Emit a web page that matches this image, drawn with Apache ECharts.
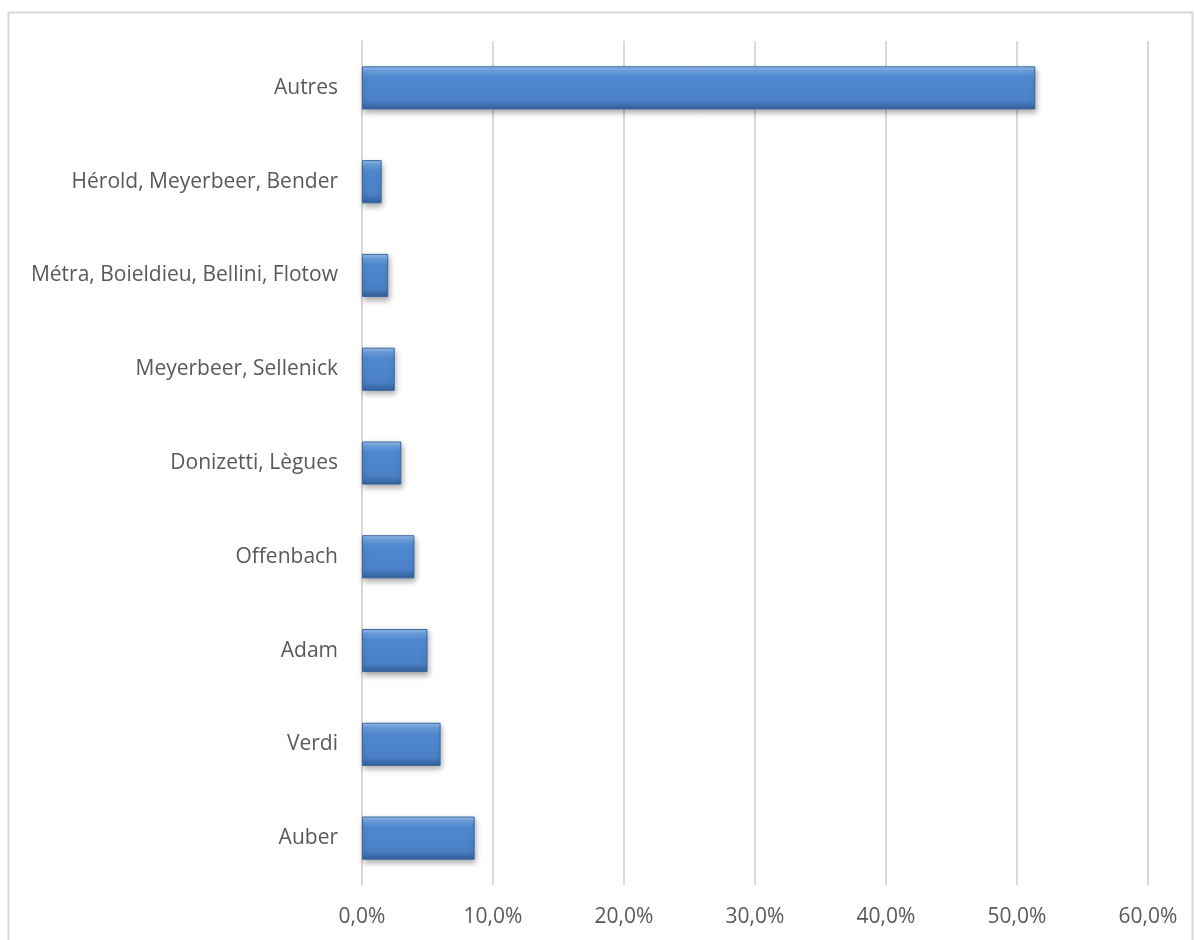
<!DOCTYPE html>
<html>
<head>
<meta charset="utf-8">
<script src="https://cdn.jsdelivr.net/npm/echarts@6/dist/echarts.min.js"></script>
<style>
html,body{margin:0;padding:0;background:#fff;}
#chart{width:1194px;height:940px;}
</style>
</head>
<body>
<div id="chart"></div>
<script>
const categories = ["Auber","Verdi","Adam","Offenbach","Donizetti, Lègues","Meyerbeer, Sellenick","Métra, Boieldieu, Bellini, Flotow","Hérold, Meyerbeer, Bender","Autres"];
const values = [8.6, 6.0, 5.0, 4.0, 3.0, 2.5, 2.0, 1.5, 51.4];
const xTicks = [0, 10, 20, 30, 40, 50, 60];

const chart = echarts.init(document.getElementById('chart'));
const font = "'Open Sans', sans-serif";
chart.setOption({
  animation: false,
  graphic: [{
    type: 'rect', silent: true, z: -1,
    shape: {x: 8.5, y: 12.5, width: 1184, height: 960},
    style: {fill: 'none', stroke: '#d9d9d9', lineWidth: 2}
  }],
  grid: {left: 362, right: 46, top: 41, bottom: 55, containLabel: false},
  xAxis: {
    type: 'value', min: xTicks[0], max: xTicks[xTicks.length-1], interval: 10,
    axisLine: {show: false}, axisTick: {show: false},
    splitLine: {lineStyle: {color: '#d9d9d9', width: 2}},
    axisLabel: {
      color: '#595959', fontSize: 21, fontFamily: font, margin: 22,
      formatter: v => v.toFixed(1).replace('.', ',') + '%'
    }
  },
  yAxis: {
    type: 'category', data: categories,
    axisLine: {show: true, lineStyle: {color: '#d9d9d9', width: 2}},
    axisTick: {show: false},
    axisLabel: {color: '#595959', fontSize: 21, fontFamily: font, margin: 24}
  },
  series: [{
    type: 'bar', data: values, barCategoryGap: '54%',
    itemStyle: {
      color: new echarts.graphic.LinearGradient(0, 0, 0, 1, [
        {offset: 0, color: '#9cc3f0'},
        {offset: 0.1, color: '#6fa2e0'},
        {offset: 0.25, color: '#5089d0'},
        {offset: 0.8, color: '#4a80c6'},
        {offset: 1, color: '#33609a'}
      ]),
      borderColor: '#3a679f', borderWidth: 1,
      shadowColor: 'rgba(0,0,0,0.35)', shadowBlur: 6, shadowOffsetY: 3, shadowOffsetX: 1
    }
  }]
});
</script>
</body>
</html>
